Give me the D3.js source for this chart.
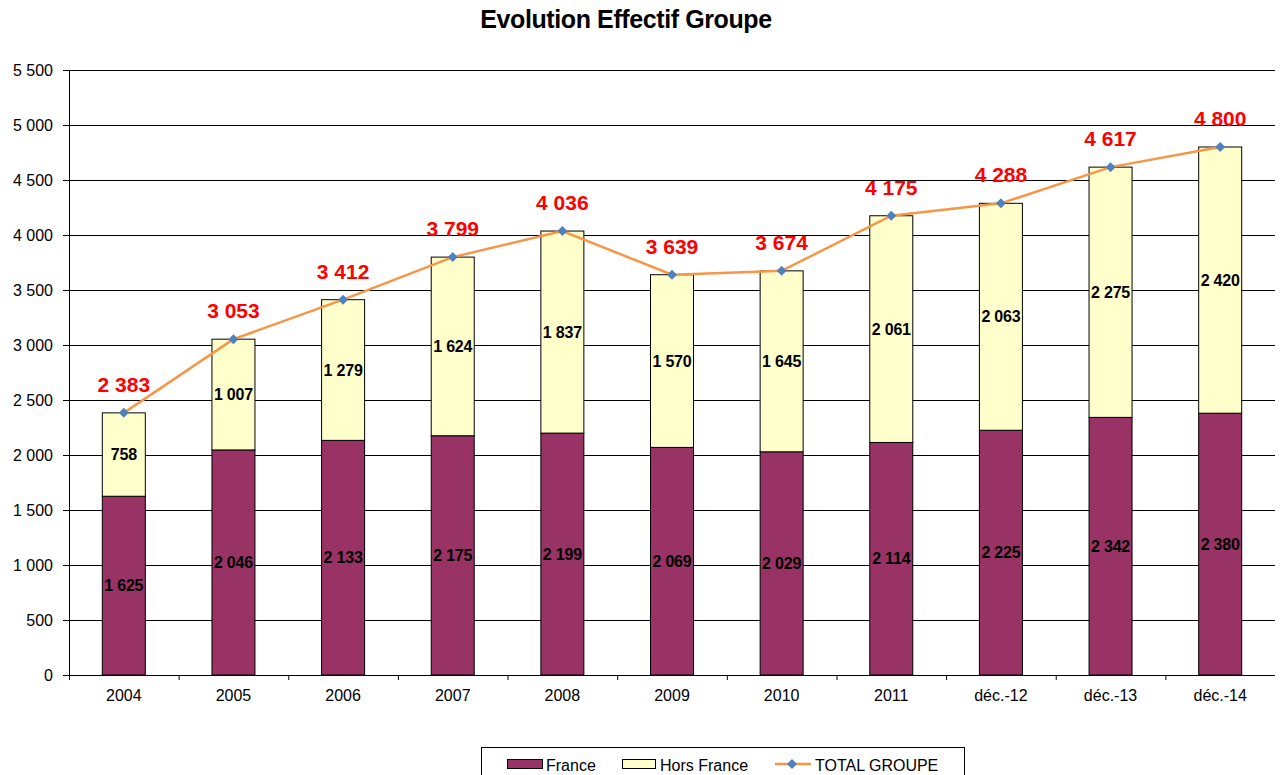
<!DOCTYPE html>
<meta charset="utf-8">
<style>
body { margin: 0; background: #fff; font-family: "Liberation Sans", Arial, sans-serif; }
.grid line { stroke: #000; stroke-width: 1px; }
.axis text { font-size: 16px; fill: #000; font-family: "Liberation Sans", Arial, sans-serif; }
.axis path, .axis line { stroke: #000; }
</style>
<body>
<script src="https://d3js.org/d3.v7.min.js"></script>
<script>

// data
var categories = ["2004", "2005", "2006", "2007", "2008", "2009", "2010", "2011", "déc.-12", "déc.-13", "déc.-14"];
var france = [1625, 2046, 2133, 2175, 2199, 2069, 2029, 2114, 2225, 2342, 2380];
var horsFrance = [758, 1007, 1279, 1624, 1837, 1570, 1645, 2061, 2063, 2275, 2420];
var total = [2383, 3053, 3412, 3799, 4036, 3639, 3674, 4175, 4288, 4617, 4800];
var yTicks = [0, 500, 1000, 1500, 2000, 2500, 3000, 3500, 4000, 4500, 5000, 5500];

var W = 1280, H = 775;
var margin = {top: 70, right: 5, bottom: 100, left: 69},
    width = W - margin.left - margin.right,
    height = H - margin.top - margin.bottom;

// thousands with a space
var fmt = function(v) { return d3.format(",")(v).replace(/,/g, " "); };

// square diamond marker
var diamond = function(r) { return "M0," + (-r) + "L" + r + ",0L0," + r + "L" + (-r) + ",0Z"; };

var svg = d3.select("body").append("svg")
    .attr("width", W)
    .attr("height", H);

svg.append("text")
    .attr("x", 626)
    .attr("y", 28)
    .attr("text-anchor", "middle")
    .style("font-weight", "bold")
    .style("font-size", "25px")
    .style("letter-spacing", "-0.4px")
    .text("Evolution Effectif Groupe");

var g = svg.append("g")
    .attr("transform", "translate(" + margin.left + "," + margin.top + ")");

var x = d3.scaleBand().domain(categories).range([0, width]).paddingInner(0).paddingOuter(0);
var y = d3.scaleLinear().domain([0, 5500]).range([height, 0]);

// gridlines
g.append("g")
    .attr("class", "grid")
    .selectAll("line")
    .data(yTicks.filter(function(d) { return d > 0; }))
  .enter().append("line")
    .attr("x1", 0)
    .attr("x2", width)
    .attr("y1", function(d) { return Math.round(y(d)) + 0.5; })
    .attr("y2", function(d) { return Math.round(y(d)) + 0.5; });

var barW = 43;
var cx = function(i) { return x(categories[i]) + x.bandwidth() / 2; };
var bx = function(i) { return cx(i) - barW / 2; };

// France bars
g.selectAll(".fr")
    .data(france)
  .enter().append("rect")
    .attr("class", "fr")
    .attr("x", function(d, i) { return bx(i); })
    .attr("y", function(d) { return y(d); })
    .attr("width", barW)
    .attr("height", function(d) { return height - y(d); })
    .style("fill", "#993366")
    .style("stroke", "#000")
    .style("stroke-width", 1);

// Hors France bars
g.selectAll(".hf")
    .data(horsFrance)
  .enter().append("rect")
    .attr("class", "hf")
    .attr("x", function(d, i) { return bx(i); })
    .attr("y", function(d, i) { return y(france[i] + d); })
    .attr("width", barW)
    .attr("height", function(d) { return height - y(d); })
    .style("fill", "#ffffcc")
    .style("stroke", "#000")
    .style("stroke-width", 1);

// value labels inside bars
g.selectAll(".frl")
    .data(france)
  .enter().append("text")
    .attr("x", function(d, i) { return cx(i); })
    .attr("y", function(d) { return y(d / 2); })
    .attr("dy", "0.35em")
    .attr("text-anchor", "middle")
    .style("font-weight", "bold")
    .style("font-size", "16px")
    .style("letter-spacing", "-0.2px")
    .text(fmt);

g.selectAll(".hfl")
    .data(horsFrance)
  .enter().append("text")
    .attr("x", function(d, i) { return cx(i); })
    .attr("y", function(d, i) { return y(france[i] + d / 2); })
    .attr("dy", "0.35em")
    .attr("text-anchor", "middle")
    .style("font-weight", "bold")
    .style("font-size", "16px")
    .style("letter-spacing", "-0.2px")
    .text(fmt);

// total line
var line = d3.line()
    .x(function(d, i) { return cx(i); })
    .y(function(d) { return y(d); });

g.append("path")
    .datum(total)
    .attr("d", line)
    .style("fill", "none")
    .style("stroke", "#f79646")
    .style("stroke-width", 2.5);

g.selectAll(".pt")
    .data(total)
  .enter().append("path")
    .attr("class", "pt")
    .attr("d", diamond(5))
    .attr("transform", function(d, i) { return "translate(" + cx(i) + "," + y(d) + ")"; })
    .style("fill", "#4f81bd");

g.selectAll(".tl")
    .data(total)
  .enter().append("text")
    .attr("x", function(d, i) { return cx(i); })
    .attr("y", function(d) { return y(d) - 21; })
    .attr("text-anchor", "middle")
    .style("font-weight", "bold")
    .style("font-size", "21px")
    .style("fill", "#ff0000")
    .text(fmt);

// axes
g.append("g")
    .attr("class", "axis")
    .call(d3.axisLeft(y).tickValues(yTicks).tickSize(6).tickPadding(10).tickFormat(fmt))
    .call(function(s) { s.select(".domain").attr("d", "M0.5," + height + "V0"); });

var xAxis = g.append("g")
    .attr("class", "axis")
    .attr("transform", "translate(0," + height + ")")
    .call(d3.axisBottom(x).tickSize(0).tickPadding(15));
xAxis.select(".domain").attr("d", "M0,0.5H" + width);
// ticks between categories
xAxis.selectAll(".sep")
    .data(categories)
  .enter().append("line")
    .attr("x1", function(d) { return x(d) + 0.5; })
    .attr("x2", function(d) { return x(d) + 0.5; })
    .attr("y1", 0)
    .attr("y2", 5)
    .style("stroke", "#000");

// legend
var lg = svg.append("g").attr("transform", "translate(481,747)");
lg.append("rect")
    .attr("x", 0.5).attr("y", 0.5)
    .attr("width", 483).attr("height", 40)
    .style("fill", "#fff").style("stroke", "#000");

lg.append("rect").attr("x", 26.5).attr("y", 12.5).attr("width", 35).attr("height", 9)
    .style("fill", "#993366").style("stroke", "#000");
lg.append("text").attr("x", 65).attr("y", 24).style("font-size", "16px").text("France");

lg.append("rect").attr("x", 141.5).attr("y", 12.5).attr("width", 33).attr("height", 9)
    .style("fill", "#ffffcc").style("stroke", "#000");
lg.append("text").attr("x", 179).attr("y", 24).style("font-size", "16px").text("Hors France");

lg.append("line").attr("x1", 294).attr("x2", 330).attr("y1", 17).attr("y2", 17)
    .style("stroke", "#f79646").style("stroke-width", 2.5);
lg.append("path").attr("d", diamond(5))
    .attr("transform", "translate(311,17)").style("fill", "#4f81bd");
lg.append("text").attr("x", 334).attr("y", 24).style("font-size", "16px").text("TOTAL GROUPE");

</script>
</body>
